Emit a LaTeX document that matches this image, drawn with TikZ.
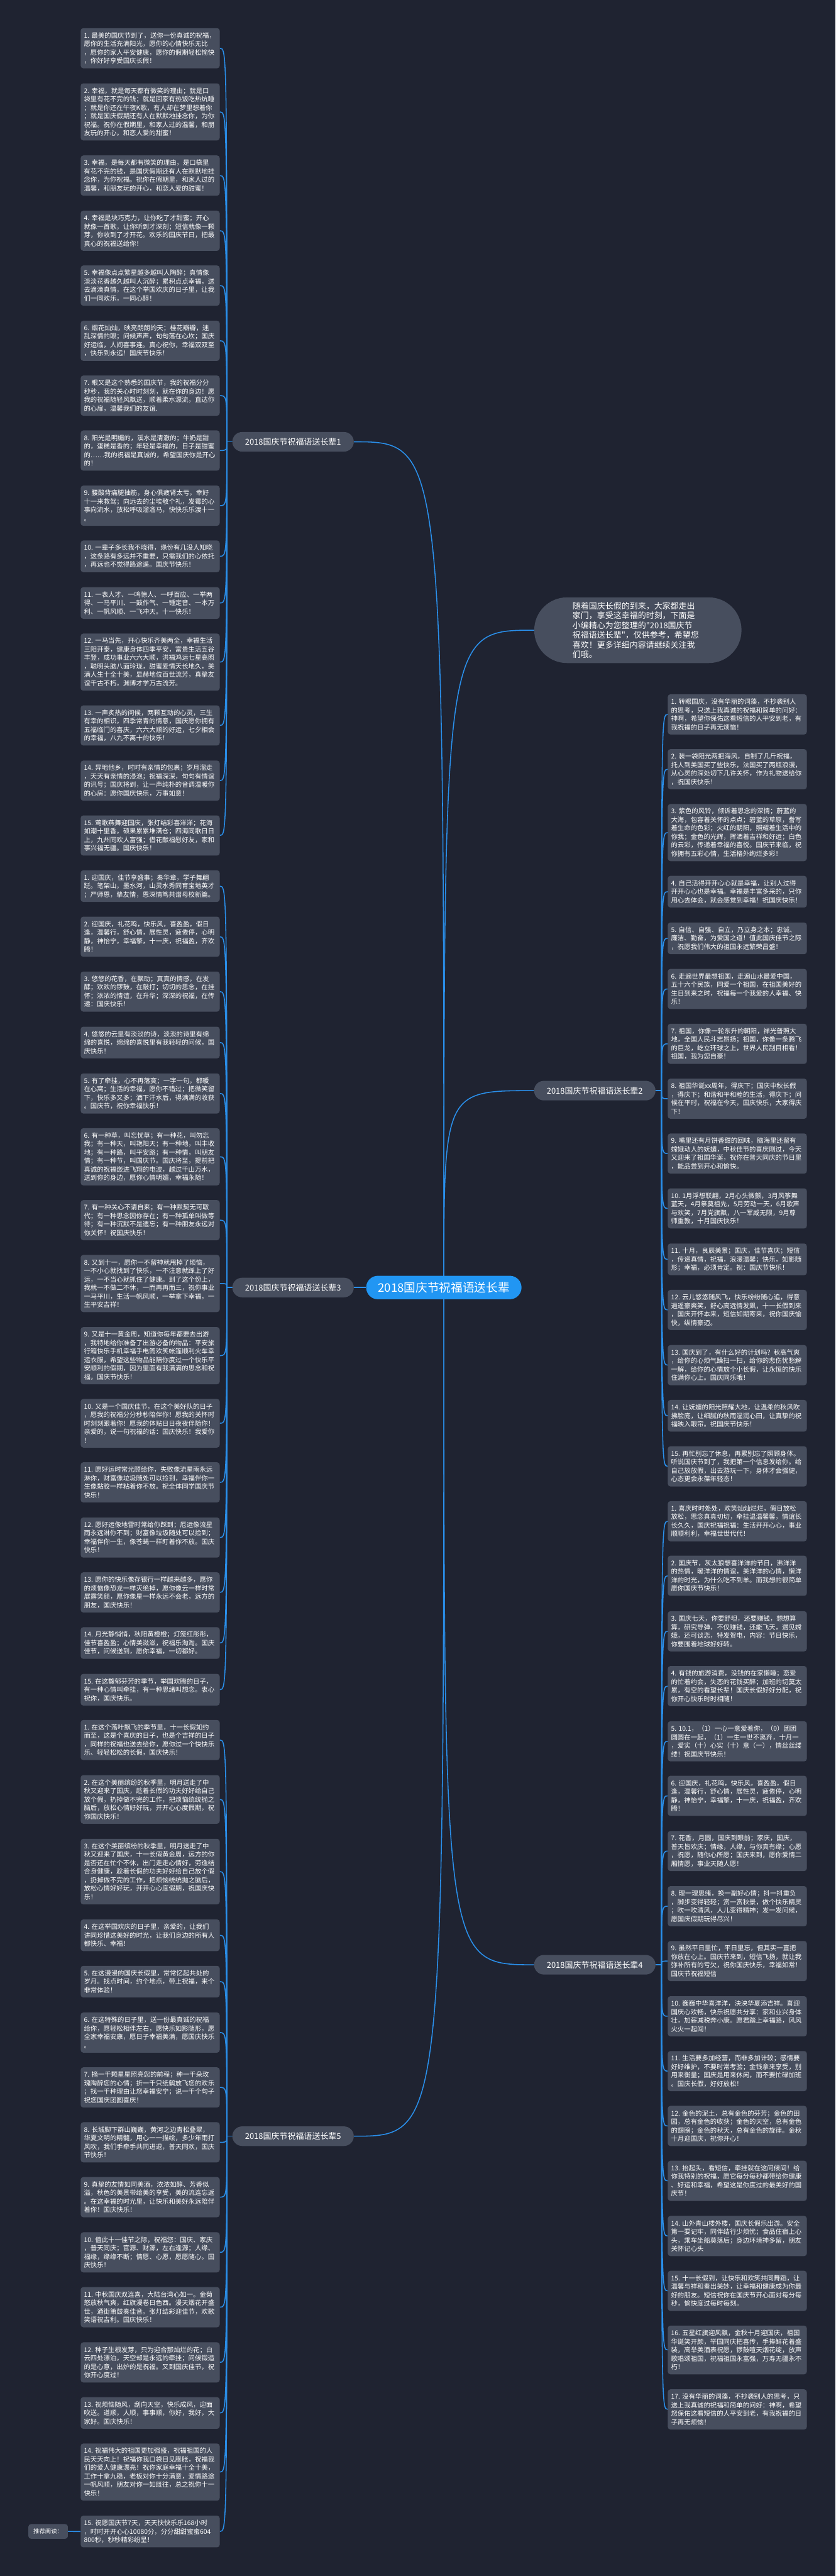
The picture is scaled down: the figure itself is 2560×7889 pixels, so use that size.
\documentclass[tikz,border=0pt]{standalone}
\usepackage{fontspec}
\newfontfamily\cjk{Noto Sans CJK SC}
\definecolor{bgc}{HTML}{1F2331}
\definecolor{nodec}{HTML}{474E5E}
\definecolor{linec}{HTML}{2A8FEA}
\definecolor{ctrc}{HTML}{2196F3}
\pgfdeclarelayer{back}
\pgfdeclarelayer{bg}
\pgfsetlayers{back,bg,main}
\tikzset{
  leaf/.style={fill=nodec, rounded corners=8pt, text=white, text width=406pt, inner xsep=10pt, inner ysep=0pt, align=left, font=\cjk\fontsize{20}{26}\selectfont},
  branch/.style={fill=nodec, rounded corners=30pt, text=white, minimum width=372pt, minimum height=60pt, inner sep=0pt, font=\cjk\fontsize{25}{30}\selectfont},
  centre/.style={fill=ctrc, rounded corners=36pt, text=white, minimum width=476pt, minimum height=72pt, inner sep=0pt, font=\cjk\fontsize{36}{40}\selectfont},
  intro/.style={fill=nodec, rounded corners=100pt, text=white, minimum width=635pt, minimum height=201pt, text width=400pt, align=left, inner sep=0pt, font=\cjk\fontsize{25}{30}\selectfont},
  conn/.style={draw=linec, line width=3pt},
}
\newcommand\LL[5]{%
  \node[leaf, anchor=north west, minimum height={26*#3+19}] (#1) at (247,#2) {#5};
  \begin{pgfonlayer}{bg}\draw[conn] (#4) .. controls (#4 |- #1.east) .. (#1.east);\end{pgfonlayer}}
\newcommand\RL[5]{%
  \node[leaf, anchor=north west, minimum height={26*#3+19}] (#1) at (2046,#2) {#5};
  \begin{pgfonlayer}{bg}\draw[conn] (#4) .. controls (#4 |- #1.west) .. (#1.west);\end{pgfonlayer}}
\begin{document}
\begin{tikzpicture}[x=1pt, y=-1pt]
\begin{pgfonlayer}{back}
\fill[bgc] (0,0) rectangle (2560,7889);
\end{pgfonlayer}
\useasboundingbox (0,0) rectangle (2560,7889);

% centre and branches
\node[centre] (ctr) at (1360,3943) {2018国庆节祝福语送长辈};
\node[intro] (intro) at (1954.5,1930) {随着国庆长假的到来，大家都走出\\家门，享受这幸福的时刻，下面是\\小编精心为您整理的"2018国庆节\\祝福语送长辈"，仅供参考，希望您\\喜欢！更多详细内容请继续关注我\\们哦。};
\node[branch] (b1) at (898,1353) {2018国庆节祝福语送长辈1};
\node[branch] (b3) at (898,3943) {2018国庆节祝福语送长辈3};
\node[branch] (b5) at (898,6542) {2018国庆节祝福语送长辈5};
\node[branch] (b2) at (1822.5,3340) {2018国庆节祝福语送长辈2};
\node[branch] (b4) at (1822.5,6017) {2018国庆节祝福语送长辈4};
\coordinate (s1) at (695,1353);
\coordinate (s3) at (695,3943);
\coordinate (s5) at (695,6542);
\coordinate (s2) at (2027,3340);
\coordinate (s4) at (2027,6017);
\begin{pgfonlayer}{bg}
\draw[conn] (ctr.center) .. controls (ctr.center |- b1.east) .. (b1.east);
\draw[conn] (ctr.center) .. controls (ctr.center |- b5.east) .. (b5.east);
\draw[conn] (ctr.west) -- (b3.east);
\draw[conn] (ctr.center) .. controls (ctr.center |- intro.west) .. (intro.west);
\draw[conn] (ctr.center) .. controls (ctr.center |- b2.west) .. (b2.west);
\draw[conn] (ctr.center) .. controls (ctr.center |- b4.west) .. (b4.west);
\draw[conn] (b1.west) -- (s1);
\draw[conn] (b3.west) -- (s3);
\draw[conn] (b5.west) -- (s5);
\draw[conn] (b2.east) -- (s2);
\draw[conn] (b4.east) -- (s4);
\end{pgfonlayer}

% group 1
\LL{g1-1}{86}{4}{s1}{1.~最美的国庆节到了，送你一份真诚的祝福，\\愿你的生活充满阳光，愿你的心情快乐无比\\，愿你的家人平安健康，愿你的假期轻松愉快\\，你好好享受国庆长假！}
\LL{g1-2}{255}{6}{s1}{2.~幸福，就是每天都有微笑的理由；就是口\\袋里有花不完的钱；就是回家有热饭吃热炕睡\\；就是你还在午夜K歌，有人却在梦里想着你\\；就是国庆假期还有人在默默地挂念你，为你\\祝福。祝你在假期里，和家人过的温馨，和朋\\友玩的开心，和恋人爱的甜蜜！}
\LL{g1-3}{476}{4}{s1}{3.~幸福，是每天都有微笑的理由，是口袋里\\有花不完的钱，是国庆假期还有人在默默地挂\\念你，为你祝福。祝你在假期里，和家人过的\\温馨，和朋友玩的开心，和恋人爱的甜蜜！}
\LL{g1-4}{645}{4}{s1}{4.~幸福是块巧克力，让你吃了才甜蜜；开心\\就像一首歌，让你听到才深刻；短信就像一颗\\芽，你收到了才开花。欢乐的国庆节日，把最\\真心的祝福送给你！}
\LL{g1-5}{813}{4}{s1}{5.~幸福像点点繁星越多越叫人陶醉；真情像\\淡淡花香越久越叫人沉醉；累积点点幸福，送\\去滴滴真情，在这个举国欢庆的日子里，让我\\们一同欢乐，一同心醉！}
\LL{g1-6}{982}{4}{s1}{6.~烟花灿灿，映亮朗朗的天；桂花瓣瓣，迷\\乱深情的眼；问候声声，句句落在心坎；国庆\\好运临，人间喜事连。真心祝你，幸福双双至\\，快乐到永远！国庆节快乐！}
\LL{g1-7}{1150}{4}{s1}{7.~眼又是这个熟悉的国庆节，我的祝福分分\\秒秒，我的关心时时刻刻，就在你的身边！愿\\我的祝福随轻风飘送，顺着柔水漂流，直达你\\的心扉，温馨我们的友谊.}
\LL{g1-8}{1318}{4}{s1}{8.~阳光是明媚的，溪水是清澈的；牛奶是甜\\的，蛋糕是香的；年轻是幸福的，日子是甜蜜\\的……我的祝福是真诚的，希望国庆你是开心\\的！}
\LL{g1-9}{1487}{4}{s1}{9.~腰酸背痛腿抽筋，身心俱疲肾太亏，幸好\\十一来救驾；向远去的尘埃敬个礼，发霉的心\\事向流水，放松呼吸溜溜马，快快乐乐渡十一\\。}
\LL{g1-10}{1655}{3}{s1}{10.~一辈子多长我不晓得，缘份有几没人知晓\\，这条路有多远并不重要，只需我们的心依托\\，再远也不觉得路途遥。国庆节快乐！}
\LL{g1-11}{1798}{3}{s1}{11.~一表人才、一鸣惊人、一呼百应、一举两\\得、一马平川、一鼓作气、一锤定音、一本万\\利、一帆风顺、一飞冲天。十一快乐！}
\LL{g1-12}{1940}{6}{s1}{12.~一马当先，开心快乐齐美两全，幸福生活\\三阳开泰，健康身体四季平安，富贵生活五谷\\丰登，成功事业六六大顺，洪福鸿运七星高照\\，聪明头脑八面玲珑，甜蜜爱情天长地久，美\\满人生十全十美，显赫地位百世流芳，真挚友\\谊千古不朽，渊博才学万古流芳。}
\LL{g1-13}{2160}{4}{s1}{13.~一声炙热的问候，两颗互动的心灵，三生\\有幸的相识，四季常青的情意，国庆愿你拥有\\五福临门的喜庆，六六大顺的好运，七夕相会\\的幸福，八九不离十的快乐！}
\LL{g1-14}{2329}{4}{s1}{14.~异地他乡，时时有亲情的包裹；岁月溜走\\，天天有亲情的浸泡；祝福深深，句句有情谊\\的讯号；国庆将到，让一声纯朴的音调温暖你\\的心房：愿你国庆快乐，万事如意！}
\LL{g1-15}{2497}{4}{s1}{15.~莺歌燕舞迎国庆，张灯结彩喜洋洋；花海\\如潮十里香，硕果累累堆满仓；四海同歌日日\\上，九州同欢人富强；借花献福慰好友，家和\\事兴福无疆。国庆快乐！}

% group 3
\LL{g3-1}{2665}{3}{s3}{1.~迎国庆，佳节享盛事；奏华章，学子舞翩\\跹。笔架山，墨水河，山灵水秀同育宝地英才\\；严师恩，挚友情，恩深情笃共谱母校新篇。}
\LL{g3-2}{2807}{4}{s3}{2.~迎国庆，礼花鸣，快乐风，喜盈盈，假日\\逢，温馨行，舒心情，展性灵，疲倦停，心明\\静，神怡宁，幸福擎，十一庆，祝福盈，齐欢\\腾！}
\LL{g3-3}{2975}{4}{s3}{3.~悠悠的花香，在飘动；真真的情感，在发\\酵；欢欢的锣鼓，在敲打；切切的思念，在挂\\怀；浓浓的情谊，在升华；深深的祝福，在传\\递：国庆快乐！}
\LL{g3-4}{3144}{3}{s3}{4.~悠悠的云里有淡淡的诗，淡淡的诗里有绵\\绵的喜悦，绵绵的喜悦里有我轻轻的问候，国\\庆快乐！}
\LL{g3-5}{3287}{4}{s3}{5.~有了牵挂，心不再落寞；一字一句，都暖\\在心窝；生活的幸福，愿你不错过；把微笑留\\下，快乐多又多；洒下汗水后，得满满的收获\\。国庆节，祝你幸福快乐！}
\LL{g3-6}{3455}{6}{s3}{6.~有一种草，叫忘忧草；有一种花，叫勿忘\\我；有一种天，叫艳阳天；有一种地，叫丰收\\地；有一种路，叫平安路；有一种情，叫朋友\\情；有一种节，叫国庆节。国庆将至，提前把\\真诚的祝福嵌进飞翔的电波，越过千山万水，\\送到你的身边，愿你心情明媚，幸福永随！}
\LL{g3-7}{3675}{4}{s3}{7.~有一种关心不请自来；有一种默契无可取\\代；有一种思念因你存在；有一种孤单叫做等\\待；有一种沉默不是遗忘；有一种朋友永远对\\你关怀！祝国庆快乐！}
\LL{g3-8}{3843}{6}{s3}{8.~又到十一，愿你一不留神就甩掉了烦恼，\\一不小心就找到了快乐，一不注意就踩上了好\\运，一不当心就抓住了健康。到了这个份上，\\我就一不做二不休，一而再再而三，祝你事业\\一马平川，生活一帆风顺，一举拿下幸福，一\\生平安吉祥！}
\LL{g3-9}{4064}{6}{s3}{9.~又是十一黄金周，知道你每年都要去出游\\，我特地给你准备了出游必备的物品：平安旅\\行箱快乐手机幸福手电筒欢笑帐篷顺利火车幸\\运衣服，希望这些物品能陪你度过一个快乐平\\安顺利的假期，因为里面有我满满的思念和祝\\福，国庆节快乐！}
\LL{g3-10}{4284}{5}{s3}{10.~又是一个国庆佳节，在这个美好队的日子\\，愿我的祝福分分秒秒陪伴你！愿我的关怀时\\时刻刻跟着你！愿我的体贴日日夜夜伴随你！\\亲爱的，说一句祝福的话：国庆快乐！我爱你\\！}
\LL{g3-11}{4478}{4}{s3}{11.~愿好运时常光顾给你，失败像流星雨永远\\淋你，财富像垃圾随处可以捡到，幸福伴你一\\生像黏胶一样粘着你不放。祝全体同学国庆节\\快乐！}
\LL{g3-12}{4647}{4}{s3}{12.~愿好运像地雷时常给你踩到；厄运像流星\\雨永远淋你不到；财富像垃圾随处可以捡到；\\幸福伴你一生，像苍蝇一样盯着你不放。国庆\\快乐！}
\LL{g3-13}{4815}{4}{s3}{13.~愿你的快乐像存银行一样越来越多，愿你\\的烦恼像恐龙一样灭绝掉，愿你像云一样时常\\展露笑颜，愿你像星一样永远不会老，远方的\\朋友，国庆快乐！}
\LL{g3-14}{4983}{3}{s3}{14.~月光静悄悄，秋阳黄橙橙；灯笼红彤彤，\\佳节喜盈盈；心情美滋滋，祝福乐淘淘。国庆\\佳节，问候送到，愿你幸福，一切都好。}
\LL{g3-15}{5126}{3}{s3}{15.~在这馥郁芬芳的季节，举国欢腾的日子，\\有一种心情叫牵挂，有一种思绪叫想念。衷心\\祝你，国庆快乐。}

% group 5
\LL{g5-1}{5267}{4}{s5}{1.~在这个落叶飘飞的季节里，十一长假如约\\而至，这是个喜庆的日子，也是个吉祥的日子\\，同样的祝福也送去给你，愿你过一个快快乐\\乐、轻轻松松的长假，国庆快乐！}
\LL{g5-2}{5436}{5}{s5}{2.~在这个美丽缤纷的秋季里，明月送走了中\\秋又迎来了国庆，趁着长假的功夫好好给自己\\放个假，扔掉做不完的工作，把烦恼统统抛之\\脑后，放松心情好好玩，开开心心度假期，祝\\你国庆快乐！}
\LL{g5-3}{5631}{7}{s5}{3.~在这个美丽缤纷的秋季里，明月送走了中\\秋又迎来了国庆，十一长假黄金周，远方的你\\是否还在忙个不休，出门走走心情好，劳逸结\\合身健康，趁着长假的功夫好好给自己放个假\\，扔掉做不完的工作，把烦恼统统抛之脑后，\\放松心情好好玩，开开心心度假期，祝国庆快\\乐！}
\LL{g5-4}{5878}{3}{s5}{4.~在这举国欢庆的日子里，亲爱的，让我们\\讲同珍惜这美好的时光，让我们身边的所有人\\都快乐、幸福！}
\LL{g5-5}{6020}{3}{s5}{5.~在这漫漫的国庆长假里，常常忆起共处的\\岁月。找点时间，约个地点，带上祝福，来个\\非常体验！}
\LL{g5-6}{6163}{4}{s5}{6.~在这特殊的日子里，送一份最真诚的祝福\\给你，愿轻松相伴左右，愿快乐如影随形，愿\\全家幸福安康，愿日子幸福美满，愿国庆快乐\\。}
\LL{g5-7}{6331}{4}{s5}{7.~摘一千颗星星照亮您的前程；种一千朵玫\\瑰陶醉您的心情；折一千只纸鹤放飞您的欢乐\\；找一千种理由让您幸福安宁；说一千个句子\\祝您国庆团圆喜庆！}
\LL{g5-8}{6499}{4}{s5}{8.~长城脚下群山巍巍，黄河之边青松叠翠，\\华夏文明的精髓，用心一一描绘，多少年雨打\\风吹，我们手牵手共同进退，普天同欢，国庆\\节快乐！}
\LL{g5-9}{6667}{4}{s5}{9.~真挚的友情如同美酒，浓浓如醇、芳香似\\溢，秋色的美景带给美的享受，美的流连忘返\\。在这幸福的时光里，让快乐和美好永远陪伴\\着你！国庆快乐！}
\LL{g5-10}{6836}{4}{s5}{10.~值此十一佳节之际，祝福您：国庆、家庆\\，普天同庆；官源、财源，左右逢源；人缘、\\福缘，缘缘不断；情愿、心愿，愿愿随心。国\\庆快乐！}
\LL{g5-11}{7004}{4}{s5}{11.~中秋国庆双连喜，大陆台湾心如一。金菊\\怒放秋气爽，红旗漫卷日色西。漫天烟花开盛\\世，通街箫鼓奏佳音。张灯结彩迎佳节，欢歌\\笑语祝吉利。国庆快乐！}
\LL{g5-12}{7173}{4}{s5}{12.~种子生根发芽，只为迎合那灿烂的花；白\\云四处漂泊，天空却是永远的牵挂；问候锻造\\的是心意，出炉的是祝福。又到国庆佳节，祝\\你开心度过！}
\LL{g5-13}{7341}{3}{s5}{13.~祝烦恼随风，刮向天空，快乐成风，迎面\\吹送。道顺，人顺，事事顺，你好，我好，大\\家好。国庆快乐！}
\LL{g5-14}{7483}{6}{s5}{14.~祝福伟大的祖国更加强盛，祝福祖国的人\\民天天向上！祝福你我口袋日见膨胀，祝福我\\们的爱人健康漂亮！祝你家庭幸福十全十美，\\工作十拿九稳，老板对你十分满意，爱情路途\\一帆风顺，朋友对你一如既往，总之祝你十一\\快乐！}
\LL{g5-15}{7704}{3}{s5}{15.~祝愿国庆节7天，天天快快乐乐168小时\\，时时开开心心10080分，分分甜甜蜜蜜604\\800秒，秒秒精彩纷呈！}
\node[fill=nodec, rounded corners=8pt, text=white, minimum width=121pt, minimum height=45pt, inner sep=0pt, font=\cjk\fontsize{18}{22}\selectfont] (rec) at (147.5,7752.5) {推荐阅读：};
\begin{pgfonlayer}{bg}\draw[conn] (rec.east) -- (g5-15.west);\end{pgfonlayer}

% group 2
\RL{g2-1}{2126}{4}{s2}{1.~转眼国庆，没有华丽的词藻，不抄袭别人\\的思考，只送上我真诚的祝福和简单的问好：\\神啊，希望你保佑这看短信的人平安到老，有\\我祝福的日子再无烦恼！}
\RL{g2-2}{2294}{4}{s2}{2.~装一袋阳光两把海风，自制了几斤祝福，\\托人到美国买了些快乐，法国买了两瓶浪漫，\\从心灵的深处切下几许关怀，作为礼物送给你\\，祝国庆快乐！}
\RL{g2-3}{2462}{6}{s2}{3.~紫色的风铃，倾诉着思念的深情；蔚蓝的\\大海，包容着关怀的点点；碧蓝的草原，誊写\\着生命的色彩；火红的朝阳，照耀着生活中的\\你我；金色的光辉，挥洒着吉祥和好运；白色\\的云彩，传递着幸福的喜悦。国庆节来临，祝\\你拥有五彩心情，生活格外绚烂多彩！}
\RL{g2-4}{2682}{3}{s2}{4.~自己活得开开心心就是幸福，让别人过得\\开开心心也是幸福。幸福是丰富多采的，只你\\用心去体会，就会感觉到幸福！祝国庆快乐！}
\RL{g2-5}{2825}{3}{s2}{5.~自信、自强、自立，乃立身之本；忠诚、\\廉洁、勤奋，为爱国之道！值此国庆佳节之际\\，祝愿我们伟大的祖国永远繁荣昌盛！}
\RL{g2-6}{2967}{4}{s2}{6.~走遍世界最想祖国，走遍山水最爱中国，\\五十六个民族，同爱一个祖国，在祖国美好的\\生日到来之时，祝福每一个我爱的人幸福、快\\乐！}
\RL{g2-7}{3135}{4}{s2}{7.~祖国，你像一轮东升的朝阳，祥光普照大\\地，全国人民斗志昂扬；祖国，你像一条腾飞\\的巨龙，屹立环球之上，世界人民刮目相看！\\祖国，我为您自豪！}
\RL{g2-8}{3303}{4}{s2}{8.~祖国华诞xx周年，得庆下；国庆中秋长假\\，得庆下；和谐和平和睦的生活，得庆下；问\\候在平时，祝福在今天，国庆快乐，大家得庆\\下！}
\RL{g2-9}{3471}{4}{s2}{9.~嘴里还有月饼香甜的回味，脑海里还留有\\嫦娥动人的妩媚，中秋佳节的喜庆刚过，今天\\又迎来了祖国华诞，祝你在普天同庆的节日里\\，能品尝到开心和愉快。}
\RL{g2-10}{3639}{4}{s2}{10.~1月浮想联翩，2月心头微颤，3月风筝舞\\蓝天，4月祭奠祖先，5月劳动一天，6月歌声\\与欢笑，7月党旗飘，八一军威无限，9月尊\\师重教，十月国庆快乐！}
\RL{g2-11}{3808}{3}{s2}{11.~十月，良辰美景；国庆，佳节喜庆；短信\\，传递真情，祝福，浪漫温馨；快乐，如影随\\形；幸福，必须肯定。祝：国庆节快乐！}
\RL{g2-12}{3950}{4}{s2}{12.~云儿悠悠随风飞，快乐纷纷随心追，得意\\逍遥豪爽笑，舒心高远情发飙，十一长假到来\\，国庆开怀本来，短信如期寄来，祝你国庆愉\\快，纵情豪迈。}
\RL{g2-13}{4119}{4}{s2}{13.~国庆到了，有什么好的计划吗？秋高气爽\\，给你的心烦气躁扫一扫，给你的悲伤忧愁解\\一解，给你的心情放个小长假，让永恒的快乐\\住满你心上。国庆同乐哦！}
\RL{g2-14}{4287}{3}{s2}{14.~让妩媚的阳光照耀大地，让温柔的秋风吹\\拂脸庞，让细腻的秋雨湿润心田，让真挚的祝\\福映入眼帘。祝国庆节快乐！}
\RL{g2-15}{4429}{4}{s2}{15.~再忙别忘了休息，再累别忘了照顾身体。\\听说国庆节到了，我把第一个信息发给你。给\\自己放放假，出去游玩一下，身体才会强健，\\心态更会永葆年轻态！}

% group 4
\RL{g4-1}{4597}{4}{s4}{1.~喜庆时时处处，欢笑灿灿烂烂，假日放松\\放松，思念真真切切，牵挂温温馨馨，情谊长\\长久久，国庆祝福祝福：生活开开心心，事业\\顺顺利利，幸福世世代代！}
\RL{g4-2}{4764}{4}{s4}{2.~国庆节，灰太狼想喜洋洋的节日，沸洋洋\\的热情，暖洋洋的情谊，美洋洋的心情，懒洋\\洋的时光，为什么吃不到羊。而我想的很简单\\愿你国庆节快乐！}
\RL{g4-3}{4934}{4}{s4}{3.~国庆七天，你要舒坦，还要赚钱，想想算\\算，研究导弹，不仅赚钱，还能飞天，遇见嫦\\娥，还可谈恋，特发贺电，内容：节日快乐，\\你要围着地球好好转。}
\RL{g4-4}{5102}{4}{s4}{4.~有钱的旅游消费，没钱的在家懒睡；恋爱\\的忙着约会，失恋的花钱买醉；加班的切莫太\\累，有空的看望长辈！国庆长假好好分配，祝\\你开心快乐时时相随！}
\RL{g4-5}{5271}{4}{s4}{5.~10.1，（1）一心一意爱着你，（0）团团\\圆圆在一起，（1）一生一世不离弃，十月一\\，爱实（十）心实（十）意（一），情丝丝缕\\缕！祝国庆节快乐！}
\RL{g4-6}{5438}{4}{s4}{6.~迎国庆，礼花鸣，快乐风，喜盈盈，假日\\逢，温馨行，舒心情，展性灵，疲倦停，心明\\静，神怡宁，幸福擎，十一庆，祝福盈，齐欢\\腾！}
\RL{g4-7}{5607}{4}{s4}{7.~花香，月圆，国庆到眼前；家庆，国庆，\\普天皆欢庆；情缘，人缘，与你真有缘；心愿\\，祝愿，随你心所愿；国庆来到，愿你爱情二\\厢情愿，事业天随人愿！}
\RL{g4-8}{5776}{4}{s4}{8.~理一理思绪，换一副好心情；抖一抖重负\\，脚步变得轻轻；赏一赏秋景，做个快乐精灵\\；吹一吹清风，人儿变得精神；发一发问候，\\愿国庆假期玩得尽兴！}
\RL{g4-9}{5944}{4}{s4}{9.~虽然平日里忙，平日里忘，但其实一直把\\你放在心上。国庆节来到，短信飞扬，就让我\\弥补所有的亏欠，祝你国庆快乐，幸福如常！\\国庆节祝福短信}
\RL{g4-10}{6113}{4}{s4}{10.~巍巍中华喜洋洋，泱泱华夏添吉祥。喜迎\\国庆心欢畅，快乐祝愿共分享：家和业兴身体\\壮，加薪减税奔小康。愿君踏上幸福路，风风\\火火一起闯！}
\RL{g4-11}{6281}{4}{s4}{11.~生活要多加经营，而非多加计较；感情要\\好好维护，不要时常考验；金钱拿来享受，别\\用来衡量；国庆是用来休闲，而不要忙碌加班\\。国庆长假，好好放松！}
\RL{g4-12}{6449}{4}{s4}{12.~金色的泥土，总有金色的芬芳；金色的田\\园，总有金色的收获；金色的天空，总有金色\\的翅膀；金色的秋天，总有金色的旋律。金秋\\十月迎国庆，祝你开心！}
\RL{g4-13}{6617}{4}{s4}{13.~抬起头，看短信，牵挂就在这问候间！给\\你我特别的祝福，愿它每分每秒都带给你健康\\、好运和幸福，希望这是你度过的最美好的国\\庆节！}
\RL{g4-14}{6786}{4}{s4}{14.~山外青山楼外楼，国庆长假乐出游。安全\\第一要记牢，同伴结行少烦忧；食品住宿上心\\头，乘车坐船莫落后；身边环境神多留，朋友\\关怀记心头}
\RL{g4-15}{6954}{4}{s4}{15.~十一长假到，让快乐和欢笑共同舞蹈，让\\温馨与祥和奏出美妙，让幸福和健康成为你最\\好的朋友。短信祝你在国庆节开心面对每分每\\秒，愉快度过每时每刻。}
\RL{g4-16}{7122}{5}{s4}{16.~五星红旗迎风飘，金秋十月迎国庆，祖国\\华诞笑开颜，举国同庆把喜传，手捧鲜花着盛\\装，高举美酒表祝愿，锣鼓喧天烟花绽，放声\\歌唱颂祖国，祝福祖国永富强，万寿无疆永不\\朽！}
\RL{g4-17}{7317}{4}{s4}{17.~没有华丽的词藻，不抄袭别人的思考，只\\送上我真诚的祝福和简单的问好：神啊，希望\\您保佑这看短信的人平安到老，有我祝福的日\\子再无烦恼！}
\end{tikzpicture}
\end{document}
